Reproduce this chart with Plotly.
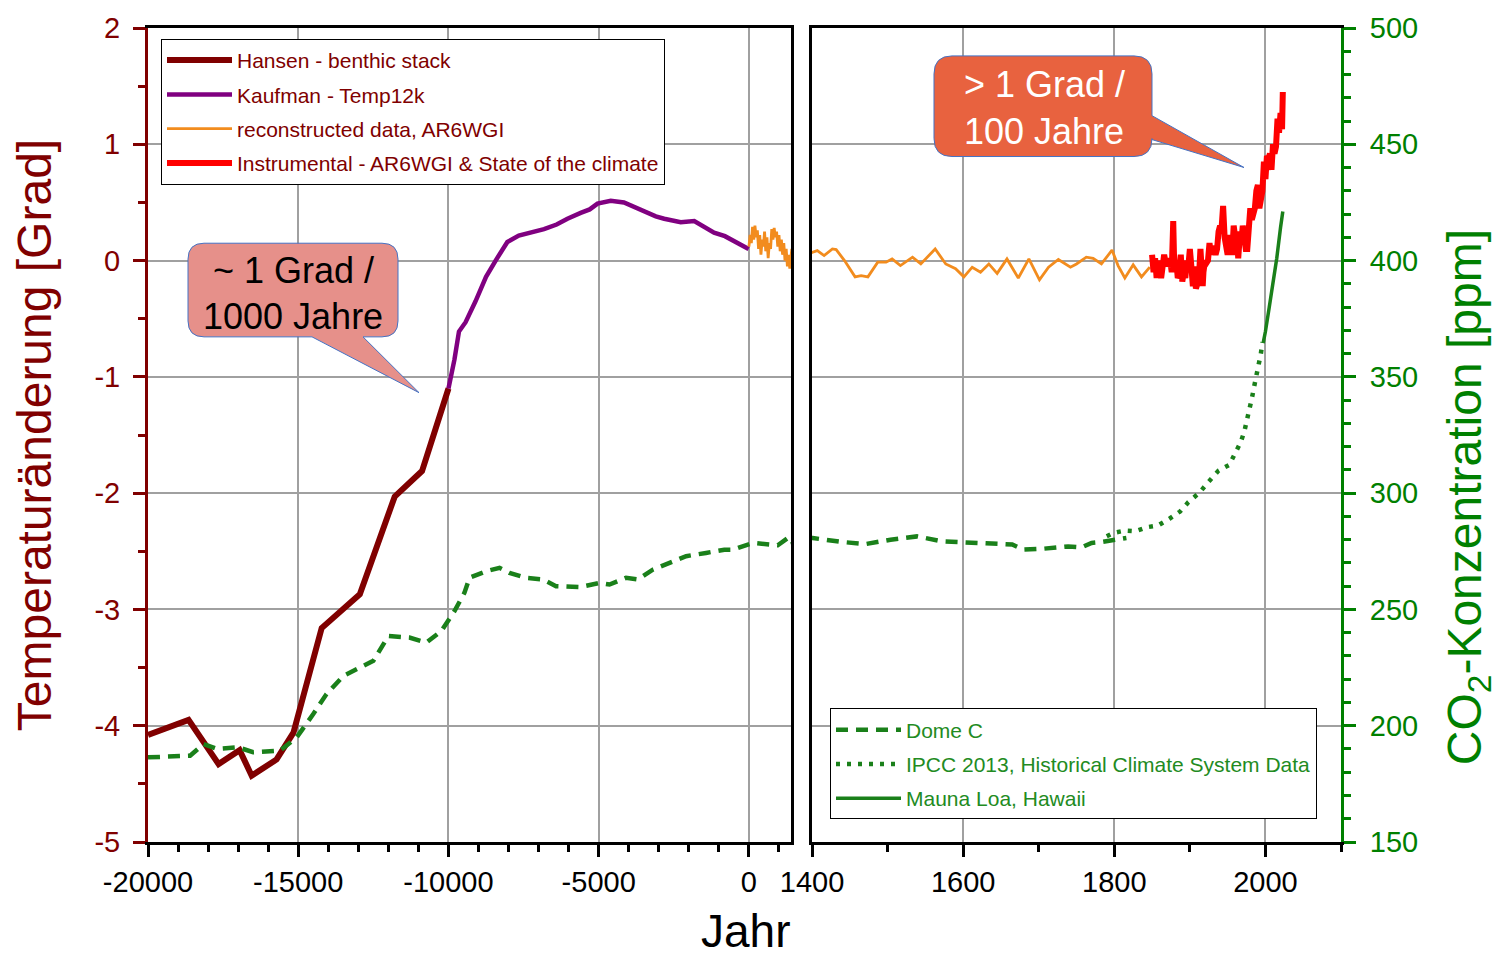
import plotly.graph_objects as go

# ---------------- data ----------------
hansen_year = [-20000, -18650, -17650, -16950, -16550, -15720, -15160, -14220, -12950, -11790, -10880, -10000]
hansen_temp = [-4.08, -3.95, -4.33, -4.21, -4.43, -4.29, -4.06, -3.16, -2.87, -2.03, -1.81, -1.10]

kaufman_year = [-10000, -9800, -9650, -9430, -9100, -8930, -8750, -8430, -8040, -7660, -7300, -6820,
                -6400, -6040, -5600, -5300, -5040, -4600, -4160, -3800, -3380, -3100, -2820, -2550,
                -2270, -1820, -1500, -1160, -800, -490, -10]
kaufman_temp = [-1.10, -0.85, -0.61, -0.53, -0.35, -0.24, -0.14, 0.00, 0.16, 0.215, 0.24, 0.27,
                0.31, 0.36, 0.41, 0.44, 0.49, 0.515, 0.50, 0.46, 0.41, 0.38, 0.36, 0.35,
                0.33, 0.34, 0.29, 0.24, 0.21, 0.17, 0.10]

recon_year = [0, 40, 80, 120, 160, 200, 240, 280, 320, 360, 400, 440, 480, 520, 560, 600, 640, 680,
              720, 760, 800, 840, 880, 920, 960, 1000, 1040, 1080, 1120, 1160, 1200, 1240, 1280,
              1320, 1360,
              1400, 1407, 1416, 1427, 1432, 1443, 1457, 1465, 1474, 1487, 1498, 1506, 1517, 1533,
              1544, 1563, 1577, 1590, 1601, 1612, 1623, 1634, 1645, 1658, 1673, 1687, 1701, 1713,
              1726, 1742, 1750, 1763, 1772, 1783, 1797, 1805, 1814, 1825, 1836, 1847]
recon_temp = [0.12, 0.22, 0.15, 0.29, 0.18, 0.30, 0.20, 0.26, 0.10, 0.22, 0.05, 0.18, 0.12, 0.25,
              0.08, 0.20, 0.02, 0.15, 0.10, 0.27, 0.18, 0.28, 0.20, 0.25, 0.12, 0.22, 0.08, 0.18,
              0.05, 0.15, 0.00, 0.10, -0.05, 0.05, -0.07,
              0.07, 0.086, 0.043, 0.10, 0.094, 0.0, -0.14, -0.13, -0.14, -0.014, -0.014, 0.014,
              -0.043, 0.029, -0.029, 0.10, -0.029, -0.07, -0.14, -0.057, -0.10, -0.029, -0.11,
              0.014, -0.15, 0.014, -0.166, -0.057, 0.009, -0.057, -0.029, 0.029, 0.02, -0.029,
              0.09, -0.043, -0.15, -0.037, -0.14, -0.057]

instr_year = [1850, 1852, 1854, 1856, 1858, 1860, 1862, 1864, 1866, 1868, 1870, 1872, 1874, 1876,
              1877, 1878, 1879, 1880, 1882, 1884, 1886, 1888, 1890, 1892, 1894, 1896, 1898, 1900,
              1902, 1904, 1906, 1908, 1910, 1912, 1914, 1916, 1917, 1918, 1920, 1922, 1924, 1926,
              1928, 1930, 1932, 1934, 1936, 1938, 1940, 1942, 1944, 1946, 1948, 1950, 1952, 1954,
              1956, 1958, 1960, 1962, 1964, 1966, 1968, 1970, 1972, 1974, 1976, 1978, 1980, 1982,
              1984, 1986, 1988, 1990, 1992, 1994, 1996, 1998, 2000, 2002, 2004, 2006, 2008, 2010,
              2012, 2014, 2016, 2018, 2020, 2022, 2023]
instr_temp = [0.05, -0.10, 0.02, -0.15, 0.00, -0.05, -0.15, -0.05, 0.05, -0.02, 0.02, -0.05, 0.00,
              -0.10, 0.15, 0.34, 0.05, -0.05, 0.00, -0.15, -0.12, 0.05, -0.18, -0.10, -0.15, 0.00,
              -0.05, 0.10, -0.05, -0.22, -0.05, -0.24, -0.20, -0.15, 0.10, -0.05, -0.22, -0.10,
              0.00, -0.02, 0.00, 0.15, 0.05, 0.12, 0.10, 0.05, 0.10, 0.25, 0.30, 0.28, 0.47, 0.20,
              0.15, 0.05, 0.22, 0.08, 0.05, 0.30, 0.20, 0.25, 0.02, 0.20, 0.15, 0.30, 0.15, 0.10,
              0.10, 0.30, 0.45, 0.35, 0.40, 0.45, 0.60, 0.65, 0.45, 0.55, 0.60, 0.85, 0.70, 0.90,
              0.88, 0.92, 0.78, 1.00, 0.92, 0.98, 1.22, 1.10, 1.27, 1.13, 1.45]

domec_year = [-20000, -18600, -18150, -17700, -17000, -16500, -15600, -15050, -14500, -14060, -13500,
              -12500, -12000, -11300, -10740, -10240, -9800, -9470, -9300, -8750, -8300, -7970,
              -7420, -6860, -6420, -5640, -4975, -4640, -4090, -3700, -3200, -2650, -2090, -1430,
              -820, -540, 125, 960, 1290, 1401, 1440, 1471, 1504, 1539, 1572, 1605, 1638, 1665,
              1680, 1706, 1739, 1757, 1770, 1783, 1805, 1816]
domec_ppm = [186.4, 187.1, 192.1, 190.0, 190.7, 188.6, 189.3, 195.0, 205.0, 213.6, 221.4, 227.9,
             238.6, 237.9, 235.7, 240.7, 249.3, 257.1, 263.6, 266.4, 267.9, 265.7, 263.6, 262.9,
             260.0, 259.6, 261.4, 260.7, 263.6, 262.9, 267.1, 270.0, 272.9, 274.3, 275.7, 275.7,
             278.6, 277.6, 280.7, 280.7, 279.0, 278.1, 280.0, 281.4, 279.3, 278.6, 278.3, 277.9,
             275.7, 276.1, 277.1, 276.7, 278.6, 279.0, 280.4, 280.7]

ipcc_year = [1790, 1799, 1814, 1828, 1844, 1858, 1873, 1887, 1898, 1913, 1925, 1938, 1952, 1960,
             1967, 1972, 1976, 1979, 1982, 1985, 1988, 1992, 1994, 1996]
ipcc_ppm = [281.5, 282.9, 283.9, 283.6, 285.4, 286.1, 289.0, 292.1, 296.1, 300.3, 305.0, 309.7,
            312.1, 316.9, 321.7, 326.4, 331.4, 336.1, 340.7, 345.7, 350.7, 355.7, 360.0, 365.0]

mlo_year = [1997, 2000, 2005, 2010, 2015, 2020, 2023]
mlo_ppm = [364.5, 369.5, 379.8, 389.9, 401.0, 414.2, 421.1]

temp_ticks = [-5, -4, -3, -2, -1, 0, 1, 2]
temp_ticktext = ["-5", "-4", "-3", "-2", "-1", "0", "1", "2"]
year_ticks_left = [-20000, -15000, -10000, -5000, 0]
year_ticktext_left = ["-20000", "-15000", "-10000", "-5000", "0"]
year_ticks_right = [1400, 1600, 1800, 2000]
year_ticktext_right = ["1400", "1600", "1800", "2000"]
co2_ticks = [150, 200, 250, 300, 350, 400, 450, 500]
co2_ticktext = ["150", "200", "250", "300", "350", "400", "450", "500"]

# ---------------- style ----------------
FONT = "Arial, Liberation Sans, sans-serif"
MAROON = "#800000"
GREEN = "#008000"
DGREEN = "#1a801a"
GRID = "#a0a0a0"

W, H = 1502, 957
L, R, T, B = 148, 1341, 25, 842


def px(x):
    return (x - L) / (R - L)


def py(y):
    return (B - y) / (B - T)


def P(x, y):
    return f"{px(x):.5f},{py(y):.5f}"


fig = go.Figure()

fig.add_trace(go.Scatter(x=hansen_year, y=hansen_temp, mode="lines", name="Hansen - benthic stack",
                         line=dict(color=MAROON, width=6), xaxis="x", yaxis="y", legend="legend",
                         legendgroup="g1"))
fig.add_trace(go.Scatter(x=kaufman_year, y=kaufman_temp, mode="lines", name="Kaufman - Temp12k",
                         line=dict(color="#800080", width=4.5), xaxis="x", yaxis="y", legend="legend",
                         legendgroup="g2"))
fig.add_trace(go.Scatter(x=recon_year, y=recon_temp, mode="lines", name="reconstructed data, AR6WGI",
                         line=dict(color="#f28c1e", width=2.8), xaxis="x", yaxis="y", legend="legend",
                         legendgroup="g3"))
fig.add_trace(go.Scatter(x=recon_year, y=recon_temp, mode="lines", showlegend=False,
                         line=dict(color="#f28c1e", width=2.8), xaxis="x2", yaxis="y2",
                         legendgroup="g3"))
fig.add_trace(go.Scatter(x=instr_year, y=instr_temp, mode="lines",
                         name="Instrumental - AR6WGI & State of the climate",
                         line=dict(color="#ff0000", width=6), xaxis="x2", yaxis="y2", legend="legend",
                         legendgroup="g4"))

fig.add_trace(go.Scatter(x=domec_year, y=domec_ppm, mode="lines", name="Dome C",
                         line=dict(color=DGREEN, width=4.5, dash="12px,8px"), xaxis="x", yaxis="y3",
                         legend="legend2", legendgroup="g5"))
fig.add_trace(go.Scatter(x=domec_year, y=domec_ppm, mode="lines", showlegend=False,
                         line=dict(color=DGREEN, width=4.5, dash="12px,8px"), xaxis="x2", yaxis="y4",
                         legend="legend2", legendgroup="g5"))
fig.add_trace(go.Scatter(x=ipcc_year, y=ipcc_ppm, mode="lines",
                         name="IPCC 2013, Historical Climate System Data",
                         line=dict(color=DGREEN, width=4.5, dash="4px,7px"), xaxis="x2", yaxis="y4",
                         legend="legend2", legendgroup="g6"))
fig.add_trace(go.Scatter(x=mlo_year, y=mlo_ppm, mode="lines", name="Mauna Loa, Hawaii",
                         line=dict(color=DGREEN, width=3.5), xaxis="x2", yaxis="y4", legend="legend2",
                         legendgroup="g7"))

tickfont = dict(family=FONT, size=29, color="black")
xcommon = dict(showline=True, linecolor="black", linewidth=3, mirror=True, ticks="outside",
               ticklen=12, tickwidth=3, tickcolor="black", showgrid=True, gridcolor=GRID,
               gridwidth=1.5, zeroline=False, tickfont=tickfont, fixedrange=True)

fig.update_layout(
    width=W, height=H, margin=dict(l=L, r=W - R, t=T, b=H - B),
    paper_bgcolor="white", plot_bgcolor="white", font=dict(family=FONT),
    xaxis=dict(domain=[0, px(791)], range=[-20000, 1400], anchor="y", tickmode="array",
               tickvals=year_ticks_left, ticktext=year_ticktext_left,
               minor=dict(dtick=1000, tick0=0, ticks="outside", ticklen=7, tickwidth=3,
                          tickcolor="black", showgrid=False), **xcommon),
    xaxis2=dict(domain=[px(812), 1], range=[1400, 2100], anchor="y2", tickmode="array",
                tickvals=year_ticks_right, ticktext=year_ticktext_right,
                minor=dict(dtick=100, tick0=1400, ticks="outside", ticklen=7, tickwidth=3,
                           tickcolor="black", showgrid=False), **xcommon),
    yaxis=dict(domain=[0, 1], range=[-5, 2], anchor="x", tickmode="array", tickvals=temp_ticks,
               ticktext=temp_ticktext, tickfont=dict(family=FONT, size=29, color=MAROON),
               ticks="outside", ticklen=12, tickwidth=3, tickcolor=MAROON, showline=True,
               linecolor=MAROON, linewidth=3, showgrid=True, gridcolor=GRID, gridwidth=1.5,
               zeroline=False, fixedrange=True, ticklabelstandoff=7,
               minor=dict(dtick=0.5, tick0=0, ticks="outside", ticklen=7, tickwidth=3,
                          tickcolor=MAROON, showgrid=False),
               title=dict(text="Temperaturänderung [Grad]",
                          font=dict(family=FONT, size=48, color=MAROON), standoff=28)),
    yaxis2=dict(domain=[0, 1], range=[-5, 2], anchor="x2", matches="y", tickmode="array",
                tickvals=temp_ticks, showticklabels=False, ticks="", showline=True,
                linecolor="black", linewidth=3, showgrid=True, gridcolor=GRID, gridwidth=1.5,
                zeroline=False, fixedrange=True),
    yaxis3=dict(range=[150, 500], overlaying="y", anchor="x", side="right", showline=True,
                linecolor="black", linewidth=3, ticks="", showticklabels=False, showgrid=False,
                zeroline=False, fixedrange=True),
    yaxis4=dict(range=[150, 500], overlaying="y2", anchor="x2", side="right", tickmode="array",
                tickvals=co2_ticks, ticktext=co2_ticktext,
                tickfont=dict(family=FONT, size=29, color=GREEN), ticks="outside", ticklen=12,
                tickwidth=3, tickcolor=GREEN, showline=True, linecolor=GREEN, linewidth=3,
                showgrid=False, zeroline=False, fixedrange=True, ticklabelstandoff=8,
                minor=dict(dtick=10, tick0=150, ticks="outside", ticklen=7, tickwidth=3,
                           tickcolor=GREEN, showgrid=False)),
    legend=dict(x=px(161), y=py(36), xanchor="left", yanchor="top", bgcolor="white",
                bordercolor="black", borderwidth=1, itemwidth=65, traceorder="grouped",
                tracegroupgap=4, font=dict(family=FONT, size=21, color=MAROON)),
    legend2=dict(x=px(830), y=py(708), xanchor="left", yanchor="top", bgcolor="white",
                 bordercolor="black", borderwidth=1, itemwidth=65, traceorder="grouped",
                 tracegroupgap=4, font=dict(family=FONT, size=21, color="#228b22")),
    showlegend=True,
)

# callout shapes
left_path = (f"M{P(204,241)} L{P(382,241)} Q{P(398,241)} {P(398,257)} L{P(398,319)} "
             f"Q{P(398,335)} {P(382,335)} L{P(363,335)} L{P(419,391)} L{P(312,335)} "
             f"L{P(204,335)} Q{P(188,335)} {P(188,319)} L{P(188,257)} Q{P(188,241)} {P(204,241)} Z")
right_path = (f"M{P(952,53)} L{P(1134,53)} Q{P(1152,53)} {P(1152,71)} L{P(1152,113)} "
              f"L{P(1244,165)} L{P(1152,137)} L{P(1152,136)} Q{P(1152,154)} {P(1134,154)} "
              f"L{P(952,154)} Q{P(934,154)} {P(934,136)} L{P(934,71)} Q{P(934,53)} {P(952,53)} Z")
fig.add_shape(type="path", path=left_path, xref="paper", yref="paper", fillcolor="#e6908a",
              line=dict(color="#4472c4", width=1), layer="above")
fig.add_shape(type="path", path=right_path, xref="paper", yref="paper", fillcolor="#e8623f",
              line=dict(color="#4472c4", width=1), layer="above")

callout_lines = [
    ("~ 1 Grad /", 293, 268, "black"),
    ("1000 Jahre", 293, 315, "black"),
    ("&gt; 1 Grad /", 1044, 82, "white"),
    ("100 Jahre", 1044, 129, "white"),
]
for txt, cx, cy, col in callout_lines:
    fig.add_annotation(x=px(cx), y=py(cy), xref="paper", yref="paper", showarrow=False,
                       xanchor="center", yanchor="middle", text=txt,
                       font=dict(family=FONT, size=36, color=col))

fig.add_annotation(x=px(745), y=py(931), xref="paper", yref="paper", showarrow=False,
                   xanchor="center", yanchor="middle",
                   text="Jahr", font=dict(family=FONT, size=46, color="black"))
fig.add_annotation(x=px(1468), y=py(496), xref="paper", yref="paper", showarrow=False,
                   xanchor="center", yanchor="middle", textangle=-90,
                   text="CO<sub>2</sub>-Konzentration [ppm]",
                   font=dict(family=FONT, size=48, color=GREEN))

fig.write_html("out.html")
